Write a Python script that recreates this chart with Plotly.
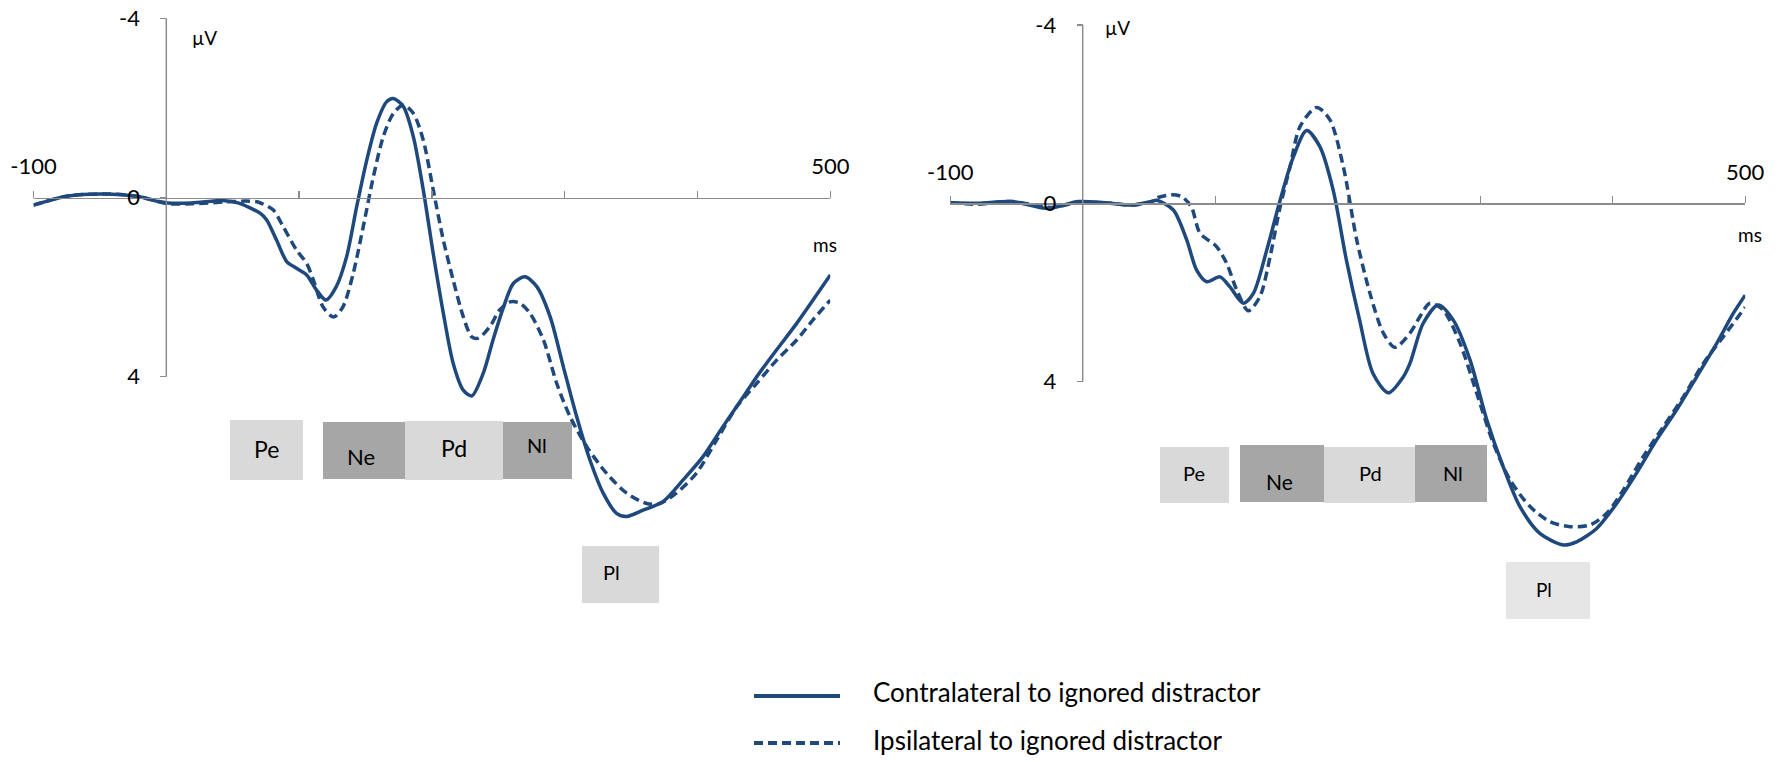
import plotly.graph_objects as go

W, H = 1780, 762

# ---------------- data ----------------
left_contra_t = [-100, -75, -45, -21, -6, 1, 19, 44, 54, 70.6, 75.6, 83, 90.7, 98, 105.7, 113, 120.3, 128, 135.8,
                 143.4, 151, 158.4, 166, 171, 178.5, 186, 193.5, 201, 208.6, 216, 223.6, 230, 238.7, 246, 254,
                 261.3, 270, 279, 289, 299, 309, 319, 329, 339, 346.7, 359, 374, 389, 404, 419, 434.5, 444.6,
                 459.6, 474.7, 487, 500]
left_contra_v = [0.17, -0.03, -0.08, -0.02, 0.09, 0.12, 0.12, 0.07, 0.12, 0.35, 0.5, 0.95, 1.43, 1.58, 1.73, 2.06,
                 2.29, 1.99, 1.32, 0.2, -0.84, -1.66, -2.14, -2.21, -2.03, -1.36, -0.17, 1.25, 2.58, 3.70, 4.30,
                 4.43, 3.92, 3.18, 2.44, 1.92, 1.77, 1.99, 2.66, 3.78, 4.89, 5.86, 6.60, 7.05, 7.12, 6.98, 6.79,
                 6.31, 5.79, 5.12, 4.45, 4.0, 3.40, 2.81, 2.29, 1.73]

left_ipsi_t = [-100, -75, -45, -21, -6, 1, 19, 44, 60, 69, 73, 80.6, 88, 98, 105.7, 110.7, 118, 125.8, 133, 140.8,
               148.3, 155.9, 163.4, 171, 178.5, 186, 193.5, 201, 208.6, 216, 223.6, 230, 235, 243.7, 251, 259,
               266.4, 274, 284, 294, 304, 316.6, 331.6, 346.7, 361.7, 371.8, 384, 399, 414.5, 429.5, 444.6,
               459.6, 474.7, 487, 500]
left_ipsi_v = [0.17, -0.03, -0.08, -0.02, 0.09, 0.14, 0.14, 0.1, 0.08, 0.1, 0.15, 0.28, 0.65, 1.17, 1.47, 1.84,
               2.44, 2.67, 2.44, 1.69, 0.65, -0.46, -1.36, -1.88, -2.06, -1.88, -1.28, -0.17, 0.95, 1.84, 2.66,
               3.11, 3.14, 2.88, 2.51, 2.33, 2.36, 2.59, 3.18, 4.15, 4.89, 5.56, 6.16, 6.60, 6.83, 6.83, 6.6,
               6.16, 5.41, 4.67, 4.15, 3.63, 3.18, 2.73, 2.29]

right_contra_t = [-100, -79, -53.6, -28.5, -21, -3.3, 16.8, 37, 52, 55.8, 68.4, 78.5, 86, 93.6, 103.6, 111, 121.2,
                  128.8, 138.9, 149, 159, 169, 179, 189, 199, 209, 219, 230.6, 242, 247, 257, 268.4, 279.7,
                  292.3, 305, 317.4, 330, 345, 362.7, 372.8, 387.9, 403, 418, 433, 448.3, 463.4, 478.5, 491, 500]
right_contra_v = [-0.01, 0, -0.04, 0.11, 0.09, -0.04, -0.01, 0.04, -0.04, -0.07, 0.15, 0.82, 1.5, 1.76, 1.65,
                  1.87, 2.24, 2.02, 1.05, -0.07, -1.04, -1.63, -1.27, -0.3, 1.27, 2.62, 3.81, 4.25, 3.89, 3.59,
                  2.69, 2.28, 2.62, 3.51, 4.86, 5.91, 6.80, 7.40, 7.66, 7.59, 7.29, 6.73, 6.05, 5.31, 4.63, 3.89,
                  3.14, 2.47, 2.06]

right_ipsi_t = [-100, -79, -53.6, -28.5, -21, -3.3, 16.8, 37, 52, 57, 67, 74.7, 82, 88.5, 101, 108.7, 116.2, 125,
                133.8, 141.4, 149, 156.5, 164, 176.6, 186.6, 196.7, 206.8, 216.8, 226.9, 235.7, 247, 254.6, 262,
                272, 284.8, 297.4, 309.9, 322.5, 337.6, 352.7, 367.8, 382.9, 395.5, 408, 423, 438.2, 453.3,
                468.4, 483.5, 500]
right_ipsi_v = [-0.01, 0.02, -0.04, 0.08, 0.09, -0.02, -0.01, 0.04, -0.04, -0.13, -0.19, -0.15, 0.08, 0.67, 0.97,
                1.35, 1.94, 2.41, 2.09, 1.2, 0.08, -0.82, -1.72, -2.15, -1.87, -0.82, 0.82, 2.02, 2.91, 3.23,
                2.91, 2.54, 2.24, 2.39, 3.14, 4.26, 5.38, 6.2, 6.8, 7.14, 7.25, 7.21, 6.95, 6.43, 5.68, 5.01,
                4.34, 3.59, 2.99, 2.33]

x_tick_vals = [-100, 0, 100, 200, 300, 400, 500]
x_tick_text = ["-100", "", "", "", "", "", "500"]
y_tick_vals = [-4, 0, 4]
y_tick_text = ["-4", "0", "4"]

series_names = ["Contralateral to ignored distractor", "Ipsilateral to ignored distractor"]
components = ["Pe", "Ne", "Pd", "Nl", "Pl"]

# ---------------- styling / layout ----------------
BLUE = "#1F497D"
AX = "#8C8C8C"
FONT = "Lato"
LIGHT = "#D9D9D9"
DARK = "#A6A6A6"


def px(x):
    return x / W


def py(y):
    return 1 - y / H


fig = go.Figure()

panels = [
    dict(xa="x", ya="y", t=(left_contra_t, left_ipsi_t), v=(left_contra_v, left_ipsi_v)),
    dict(xa="x2", ya="y2", t=(right_contra_t, right_ipsi_t), v=(right_contra_v, right_ipsi_v)),
]
for p in panels:
    for i in range(2):
        fig.add_trace(go.Scatter(
            x=p["t"][i], y=p["v"][i], xaxis=p["xa"], yaxis=p["ya"], mode="lines",
            name=series_names[i], showlegend=False, hoverinfo="skip",
            line=dict(color=BLUE, width=3.5, shape="spline", smoothing=0.8,
                      dash="solid" if i == 0 else "9px,5px"),
        ))

# axis geometry (pixels)
L = dict(x0=166.3, xs=1.328, y0=197.5, ys=44.8)
R = dict(x0=1082.7, xs=1.325, y0=203.3, ys=44.6)


def xaxis_cfg(g):
    return dict(domain=[px(g["x0"] - 100 * g["xs"]), px(g["x0"] + 500 * g["xs"])], range=[-100, 500],
                anchor="free", position=py(g["y0"]), side="top", showline=True, linecolor=AX, linewidth=1.5,
                ticks="outside", ticklen=7, tickcolor=AX, tickwidth=1.3, tickvals=x_tick_vals,
                ticktext=x_tick_text, showgrid=False, zeroline=False, ticklabelstandoff=8, automargin=False,
                tickfont=dict(family=FONT, size=22, color="black"))


def yaxis_cfg(g):
    top = (0 - g["y0"]) / g["ys"]
    bot = (H - g["y0"]) / g["ys"]
    return dict(domain=[0, 1], range=[bot, top], anchor="free", position=px(g["x0"]), showline=False,
                ticks="outside", ticklen=6, tickcolor=AX, tickwidth=1.3, tickvals=y_tick_vals,
                ticktext=y_tick_text, showgrid=False, zeroline=False, ticklabelstandoff=16, automargin=False,
                tickfont=dict(family=FONT, size=22, color="black"))


fig.update_layout(
    template="none",
    width=W, height=H, margin=dict(l=0, r=0, t=0, b=0, pad=0),
    paper_bgcolor="white", plot_bgcolor="rgba(0,0,0,0)",
    xaxis=xaxis_cfg(L), yaxis=yaxis_cfg(L),
    xaxis2=xaxis_cfg(R), yaxis2=yaxis_cfg(R),
    showlegend=False, hovermode=False,
)

shapes = []
annotations = []
# y-axis lines from -4 to 4
for xa, ya in (("x", "y"), ("x2", "y2")):
    shapes.append(dict(type="line", xref=xa, yref=ya, x0=0, x1=0, y0=-4, y1=4,
                       line=dict(color=AX, width=1.5)))

# unit labels
for (x, y, t) in [(204, 38, "µV"), (1117, 27, "µV"), (825, 244, "ms"), (1750, 234, "ms")]:
    annotations.append(dict(x=px(x), y=py(y), xref="paper", yref="paper", text=t, showarrow=False,
                            xanchor="center", yanchor="middle", font=dict(family=FONT, size=19, color="black")))

# component boxes: (label, x0, x1, y0, y1, fill, text x, text y, font size)
boxes = [
    ("Pe", 230, 303, 420, 480, LIGHT, 266, 449, 23),
    ("Ne", 323, 405, 422, 479, DARK, 361, 456, 22),
    ("Pd", 405, 503, 421, 480, LIGHT, 454, 448, 23),
    ("Nl", 503, 572, 422, 479, DARK, 537, 445, 20),
    ("Pl", 582, 659, 546, 603, LIGHT, 611, 572, 20),
    ("Pe", 1160, 1229, 447, 503, LIGHT, 1194, 473, 20),
    ("Ne", 1240, 1324, 445, 502, DARK, 1279, 482, 21),
    ("Pd", 1324, 1415, 447, 503, LIGHT, 1370, 473, 20),
    ("Nl", 1415, 1487, 445, 502, DARK, 1453, 473, 20),
    ("Pl", 1506, 1590, 562, 619, "#E6E6E6", 1544, 589, 19),
]
for lab, x0, x1, y0, y1, col, tx, ty, fs in boxes:
    shapes.append(dict(type="rect", xref="paper", yref="paper", x0=px(x0), x1=px(x1), y0=py(y1), y1=py(y0),
                       fillcolor=col, line=dict(width=0), layer="below"))
    annotations.append(dict(x=px(tx), y=py(ty), xref="paper", yref="paper", text=lab, showarrow=False,
                            xanchor="center", yanchor="middle", font=dict(family=FONT, size=fs, color="black")))

# legend (drawn)
for i, (ly, ty) in enumerate([(696, 692), (743, 740)]):
    shapes.append(dict(type="line", xref="paper", yref="paper", x0=px(754), x1=px(840), y0=py(ly), y1=py(ly),
                       line=dict(color=BLUE, width=4, dash="solid" if i == 0 else "9px,5px")))
    annotations.append(dict(x=px(871), y=py(ty), xref="paper", yref="paper", text=series_names[i],
                            showarrow=False, xanchor="left", yanchor="middle",
                            font=dict(family=FONT, size=26, color="black")))

fig.update_layout(shapes=shapes, annotations=annotations)
fig.write_html("out.html", config={"displayModeBar": False, "staticPlot": True},
               post_script="document.body.style.margin='0';document.body.style.overflow='hidden';")
